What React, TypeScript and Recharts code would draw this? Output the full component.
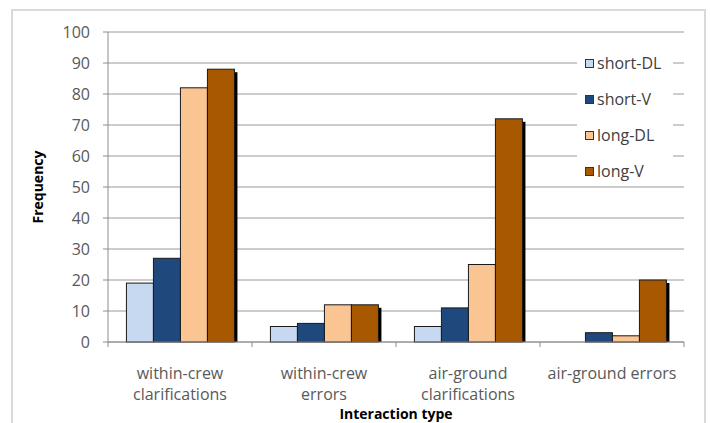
import React from 'react';
import { BarChart, Bar, XAxis, YAxis, CartesianGrid, Legend } from 'recharts';

const categories = ['within-crew clarifications', 'within-crew errors', 'air-ground clarifications', 'air-ground errors'];
const tickLines: string[][] = [['within-crew', 'clarifications'], ['within-crew', 'errors'], ['air-ground', 'clarifications'], ['air-ground errors']];
const shortDL = [19, 5, 5, 0];
const shortV = [27, 6, 11, 3];
const longDL = [82, 12, 25, 2];
const longV = [88, 12, 72, 20];
const yTicks = [0, 10, 20, 30, 40, 50, 60, 70, 80, 90, 100];

const seriesNames = ['short-DL', 'short-V', 'long-DL', 'long-V'];
const seriesColors = ['#c6d9f0', '#1f497d', '#fac493', '#a85800'];

const data = categories.map((c, i) => ({
  name: c,
  idx: i,
  'short-DL': shortDL[i],
  'short-V': shortV[i],
  'long-DL': longDL[i],
  'long-V': longV[i],
}));

const FONT = '"Open Sans", Lato, sans-serif';
const AXIS = '#8c8c8c';

const ShadowBar = (props: any) => {
  const { x, y, width, height, fill } = props;
  if (!height || height <= 0) return <g />;
  return (
    <g>
      <rect x={x + width - 1} y={y + 3} width={4} height={height - 3} fill="#000" />
      <rect x={x} y={y} width={width} height={height} fill={fill} stroke="#1a1a1a" strokeWidth={1} />
    </g>
  );
};

const XTick = (props: any) => {
  const { x, y, payload, index } = props;
  const off = payload.offset || 0;
  const lines = tickLines[index] || [String(payload.value)];
  return (
    <g>
      <line x1={x - off} x2={x - off} y1={y} y2={y + 5} stroke={AXIS} strokeWidth={1} />
      {index === categories.length - 1 && (
        <line x1={x + off} x2={x + off} y1={y} y2={y + 5} stroke={AXIS} strokeWidth={1} />
      )}
      <text x={x} y={y} textAnchor="middle" fill="#595959" fontSize={16} fontFamily={FONT}>
        {lines.map((l, i) => (
          <tspan key={i} x={x} dy={i === 0 ? 37 : 21}>{l}</tspan>
        ))}
      </text>
    </g>
  );
};

const LegendContent = () => (
  <div style={{ background: '#fff', paddingLeft: 8, fontFamily: FONT }}>
    {seriesNames.map((n, i) => (
      <div key={n} style={{ display: 'flex', alignItems: 'center', height: 28, marginBottom: i < 3 ? 8 : 0 }}>
        <span style={{ display: 'inline-block', width: 7, height: 7, border: '1px solid #333', background: seriesColors[i], marginRight: 3 }} />
        <span style={{ fontSize: 16, color: '#404040' }}>{n}</span>
      </div>
    ))}
  </div>
);

const YLabel = (props: any) => {
  const vb = props.viewBox || { x: 0, y: 32, height: 310 };
  const cx = vb.x + 37;
  const cy = vb.y + vb.height / 2;
  return (
    <text x={cx} y={cy} transform={`rotate(-90, ${cx}, ${cy})`} textAnchor="middle" dominantBaseline="central"
      fontFamily={FONT} fontWeight="bold" fontSize={14} fill="#000">Frequency</text>
  );
};

const XLabel = (props: any) => {
  const vb = props.viewBox || { x: 108, y: 342, width: 576, height: 81 };
  const cx = vb.x + vb.width / 2;
  return (
    <text x={cx} y={vb.y + 77} textAnchor="middle" fontFamily={FONT} fontWeight="bold" fontSize={14} fill="#000">Interaction type</text>
  );
};

export default function App() {
  return (
    <div style={{ position: 'absolute', left: 0, top: 0, width: 711, height: 423, background: '#fff', overflow: 'hidden' }}>
      <div style={{ position: 'absolute', left: 11, top: 9, width: 691, height: 440, border: '2px solid #d9d9d9' }} />
      <div style={{ position: 'absolute', left: 0, top: 0 }}>
        <BarChart width={711} height={423} data={data} margin={{ top: 32, right: 27, left: 0, bottom: 0 }}
          barCategoryGap="12.8%" barGap={0}>
          <CartesianGrid vertical={false} stroke="#9a9a9a" strokeWidth={1} />
          <XAxis dataKey="name" height={81} axisLine={{ stroke: AXIS }} tickLine={false} tickSize={0} tickMargin={0}
            tick={<XTick />} interval={0} label={<XLabel />} />
          <YAxis width={108} domain={[0, 100]} ticks={yTicks} interval={0} axisLine={{ stroke: AXIS }}
            tickLine={{ stroke: AXIS }} tickSize={5} tickMargin={13}
            tick={{ fill: '#595959', fontSize: 16, fontFamily: FONT }} label={<YLabel />} />
          <Legend layout="vertical" align="center" verticalAlign="middle" content={<LegendContent />}
            wrapperStyle={{ position: 'absolute', left: 577, top: 49, width: 96, height: 136 }} />
          {seriesNames.map((n, i) => (
            <Bar key={n} dataKey={n} fill={seriesColors[i]} isAnimationActive={false} shape={<ShadowBar />} />
          ))}
        </BarChart>
      </div>
    </div>
  );
}
